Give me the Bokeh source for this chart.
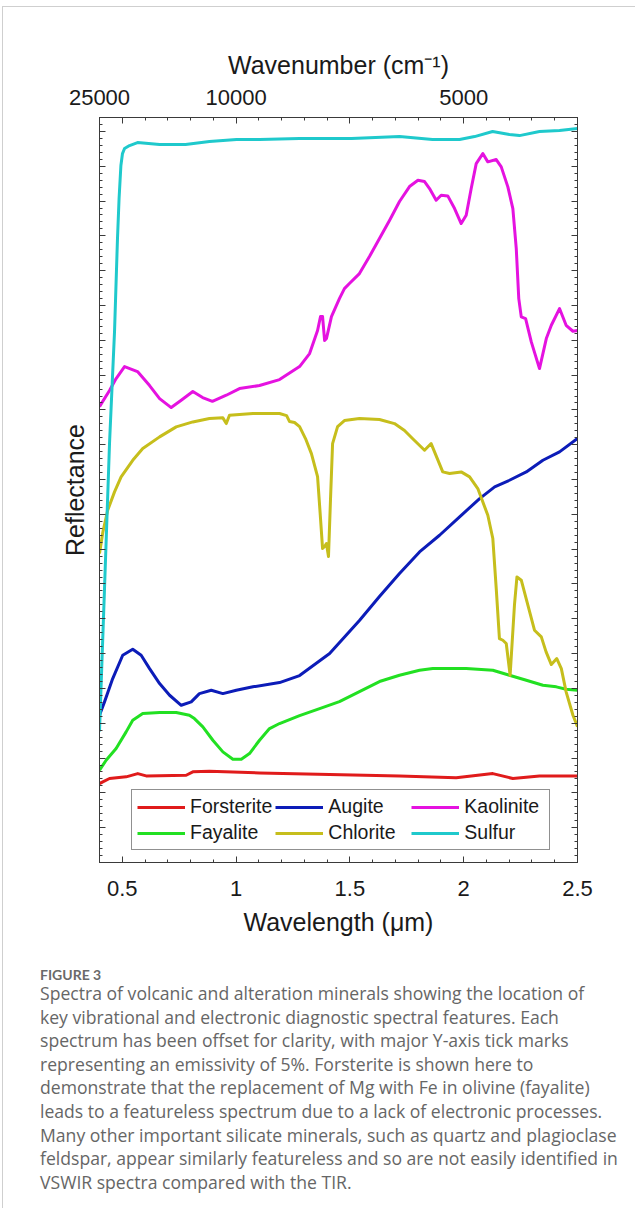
from bokeh.plotting import figure
from bokeh.models import Range1d, LinearAxis, FixedTicker, Legend, LegendItem, Div, Spacer
from bokeh.layouts import column, row
from bokeh.embed import file_html
from bokeh.resources import INLINE

# ---------------- data (wavelength in um, offset reflectance in %) ----------------
forsterite_wl = [0.400, 0.444, 0.517, 0.568, 0.605, 0.781, 0.810, 0.883, 1.103, 1.411,
                 1.718, 1.967, 2.128, 2.216, 2.333, 2.500]
forsterite_r = [11.34, 12.06, 12.30, 12.77, 12.44, 12.53, 13.02, 13.10, 12.87, 12.63,
                12.44, 12.16, 12.77, 12.06, 12.44, 12.44]

fayalite_wl = [0.400, 0.429, 0.473, 0.517, 0.546, 0.590, 0.664, 0.737, 0.795, 0.817,
               0.854, 0.898, 0.942, 0.986, 1.023, 1.059, 1.103, 1.147, 1.191, 1.279,
               1.367, 1.454, 1.542, 1.630, 1.718, 1.806, 1.864, 2.011, 2.128, 2.201,
               2.275, 2.348, 2.407, 2.450, 2.500]
fayalite_r = [13.25, 14.68, 16.36, 18.76, 20.43, 21.39, 21.54, 21.54, 21.15, 20.67,
              19.48, 17.56, 15.89, 14.83, 14.83, 15.65, 17.56, 19.24, 19.96, 21.10,
              22.11, 23.11, 24.55, 25.99, 26.89, 27.61, 27.85, 27.85, 27.61, 26.89,
              26.17, 25.46, 25.23, 24.88, 24.74]

augite_wl = [0.400, 0.422, 0.458, 0.502, 0.546, 0.583, 0.620, 0.664, 0.708, 0.759,
             0.803, 0.839, 0.891, 0.942, 1.001, 1.074, 1.191, 1.279, 1.411, 1.542,
             1.630, 1.718, 1.806, 1.894, 1.982, 2.070, 2.136, 2.201, 2.275, 2.348,
             2.421, 2.500]
augite_r = [21.15, 23.07, 26.42, 29.77, 30.63, 29.77, 27.85, 25.70, 24.02, 22.58,
            23.07, 24.26, 24.74, 24.26, 24.74, 25.23, 25.84, 26.85, 30.01, 34.75,
            38.20, 41.50, 44.61, 47.00, 49.64, 52.27, 53.95, 54.90, 56.10, 57.77,
            58.98, 60.89]

chlorite_wl = [0.400, 0.415, 0.436, 0.466, 0.495, 0.546, 0.590, 0.664, 0.737, 0.810,
               0.883, 0.942, 0.957, 0.971, 1.074, 1.191, 1.222, 1.235, 1.257, 1.279,
               1.305, 1.331, 1.358, 1.371, 1.380, 1.389, 1.397, 1.406, 1.415, 1.424,
               1.446, 1.476, 1.542, 1.630, 1.696, 1.740, 1.775, 1.828, 1.857, 1.908,
               1.938, 1.989, 2.026, 2.062, 2.106, 2.128, 2.143, 2.157, 2.172, 2.187,
               2.204, 2.223, 2.234, 2.253, 2.282, 2.311, 2.341, 2.362, 2.385, 2.409,
               2.429, 2.450, 2.480, 2.500]
chlorite_r = [44.37, 47.49, 50.59, 53.23, 55.39, 57.77, 59.45, 61.13, 62.57, 63.28,
              63.76, 63.86, 63.04, 64.23, 64.48, 64.48, 64.19, 63.33, 63.19, 62.61,
              60.89, 58.73, 55.43, 49.40, 45.09, 45.38, 45.81, 43.94, 52.27, 60.17,
              62.61, 63.47, 63.76, 63.62, 63.04, 62.04, 60.89, 59.21, 60.17, 56.10,
              55.86, 56.10, 55.39, 53.71, 49.87, 46.53, 39.34, 32.16, 31.92, 31.45,
              26.89, 36.95, 41.02, 40.54, 36.95, 33.36, 32.41, 30.25, 28.43, 29.29,
              27.85, 24.51, 21.15, 19.52]

kaolinite_wl = [0.400, 0.444, 0.473, 0.510, 0.567, 0.620, 0.664, 0.715, 0.759, 0.810,
                0.853, 0.896, 0.957, 1.015, 1.103, 1.191, 1.279, 1.323, 1.358, 1.371,
                1.380, 1.389, 1.397, 1.419, 1.454, 1.476, 1.498, 1.542, 1.586, 1.630,
                1.674, 1.718, 1.762, 1.799, 1.828, 1.850, 1.879, 1.901, 1.930, 1.960,
                1.989, 2.011, 2.033, 2.055, 2.084, 2.106, 2.143, 2.165, 2.194, 2.216,
                2.231, 2.242, 2.253, 2.272, 2.297, 2.333, 2.363, 2.385, 2.421, 2.450,
                2.480, 2.500]
kaolinite_r = [65.48, 67.78, 69.50, 71.23, 70.51, 68.50, 66.63, 65.34, 66.39, 67.64,
               66.78, 66.24, 67.11, 68.07, 68.50, 69.36, 71.23, 73.09, 76.40, 78.41,
               78.41, 74.96, 75.25, 78.41, 80.99, 82.43, 83.15, 84.58, 87.03, 89.61,
               92.20, 94.93, 97.08, 97.98, 97.80, 96.79, 95.11, 95.83, 95.74, 93.92,
               91.77, 92.96, 96.79, 100.38, 101.82, 100.63, 100.96, 99.91, 97.04, 93.92,
               88.17, 80.99, 78.37, 78.12, 74.77, 70.94, 75.25, 77.16, 79.56, 77.16,
               76.30, 76.40]

sulfur_wl = [0.400, 0.422, 0.444, 0.466, 0.479, 0.486, 0.494, 0.501, 0.510, 0.532,
             0.567, 0.664, 0.778, 0.883, 1.002, 1.103, 1.279, 1.507, 1.718, 1.863,
             1.982, 2.048, 2.127, 2.201, 2.245, 2.333, 2.421, 2.500]
sulfur_r = [18.81, 39.34, 60.17, 76.25, 89.61, 95.36, 100.10, 101.82, 102.54, 102.97,
            103.40, 103.11, 103.11, 103.54, 103.83, 103.83, 103.97, 103.97, 104.26, 103.83,
            103.83, 104.26, 104.98, 104.55, 104.40, 104.98, 105.13, 105.41]

series_names = ["Forsterite", "Augite", "Kaolinite", "Fayalite", "Chlorite", "Sulfur"]
series_colors = ["#e01b1b", "#0c1cb8", "#e512e0", "#22e022", "#c6be1c", "#1fc9cc"]

x_major_ticks = [0.5, 1.0, 1.5, 2.0, 2.5]
x_major_labels = ["0.5", "1", "1.5", "2", "2.5"]
top_ticks = [0.4, 0.5, 1.0, 1.5, 2.0, 2.5]
top_labels = ["25000", "", "10000", "", "5000", ""]
y_major_ticks = list(range(0, 106, 5))

x_minor = [round(0.4 + 0.1 * i, 2) for i in range(22)]
y_minor = list(range(0, 108))

FONT = "Liberation Sans"
AX = "#3a3a3a"

p = figure(width=615, height=941, x_range=Range1d(0.4, 2.5), y_range=Range1d(0, 107),
           x_axis_type=None, y_axis_type=None, output_backend="svg", toolbar_location=None,
           min_border_left=96, min_border_right=41, min_border_top=110, min_border_bottom=86)
p.outline_line_color = AX
p.outline_line_width = 1
p.background_fill_color = "white"
p.border_fill_color = "white"


def style_axis(ax, standoff=10):
    ax.axis_line_color = AX
    ax.major_tick_line_color = AX
    ax.minor_tick_line_color = AX
    ax.major_tick_in = 6
    ax.major_tick_out = 0
    ax.minor_tick_in = 3
    ax.minor_tick_out = 0
    ax.major_label_text_font = FONT
    ax.major_label_text_font_size = "22px"
    ax.major_label_text_color = "#1a1a1a"
    ax.major_label_standoff = standoff
    ax.axis_label_text_font = FONT
    ax.axis_label_text_font_size = "25px"
    ax.axis_label_text_font_style = "normal"
    ax.axis_label_text_color = "#1a1a1a"


bottom = LinearAxis(ticker=FixedTicker(ticks=x_major_ticks, minor_ticks=x_minor),
                    major_label_overrides=dict(zip(x_major_ticks, x_major_labels)),
                    axis_label="Wavelength (\u03bcm)")
style_axis(bottom, 18)
bottom.axis_label_standoff = 9
p.add_layout(bottom, "below")

top = LinearAxis(ticker=FixedTicker(ticks=top_ticks, minor_ticks=x_minor),
                 major_label_overrides=dict(zip(top_ticks, top_labels)),
                 axis_label="Wavenumber (cm\u207b\u00b9)")
style_axis(top, 13)
top.axis_label_standoff = 8
p.add_layout(top, "above")

y_over = {t: "" for t in y_major_ticks}
left = LinearAxis(ticker=FixedTicker(ticks=y_major_ticks, minor_ticks=y_minor),
                  major_label_overrides=y_over, axis_label="Reflectance")
style_axis(left, 0)
left.axis_label_standoff = 11
p.add_layout(left, "left")

right = LinearAxis(ticker=FixedTicker(ticks=y_major_ticks, minor_ticks=y_minor),
                   major_label_overrides=y_over)
style_axis(right, 0)
p.add_layout(right, "right")

data = {
    "Forsterite": (forsterite_wl, forsterite_r),
    "Augite": (augite_wl, augite_r),
    "Kaolinite": (kaolinite_wl, kaolinite_r),
    "Fayalite": (fayalite_wl, fayalite_r),
    "Chlorite": (chlorite_wl, chlorite_r),
    "Sulfur": (sulfur_wl, sulfur_r),
}
renderers = {}
for name, color in zip(series_names, series_colors):
    wl, r = data[name]
    renderers[name] = p.line(wl, r, line_color=color, line_width=3, line_join="round")

legend = Legend(items=[LegendItem(label=n, renderers=[renderers[n]]) for n in series_names],
                location=(32, 12), orientation="horizontal", ncols=3,
                glyph_width=48, glyph_height=20, label_height=20, label_width=80,
                label_text_font=FONT, label_text_font_size="19.5px", label_text_color="#1a1a1a",
                label_standoff=5, spacing=3, padding=5, margin=0,
                border_line_color="#222222", border_line_width=1,
                background_fill_color="white", background_fill_alpha=1)
p.add_layout(legend)

caption_lines = [
    "Spectra of volcanic and alteration minerals showing the location of",
    "key vibrational and electronic diagnostic spectral features. Each",
    "spectrum has been offset for clarity, with major Y-axis tick marks",
    "representing an emissivity of 5%. Forsterite is shown here to",
    "demonstrate that the replacement of Mg with Fe in olivine (fayalite)",
    "leads to a featureless spectrum due to a lack of electronic processes.",
    "Many other important silicate minerals, such as quartz and plagioclase",
    "feldspar, appear similarly featureless and so are not easily identified in",
    "VSWIR spectra compared with the TIR.",
]
html = ('<div style="font-family:Lato;font-size:14px;font-weight:bold;color:#6a6a6a;'
        'line-height:14px;margin:0;">FIGURE 3</div>'
        '<div style="font-family:\'Open Sans\';font-size:17.6px;line-height:23.6px;color:#666666;'
        'white-space:nowrap;">' + "<br>".join(caption_lines) + '</div>')
caption = Div(text=html, width=622, height=250,
              styles={"padding-left": "32px", "padding-top": "15px", "box-sizing": "border-box",
                      "overflow": "hidden"})

inner = column(p, caption,
               styles={"border-top": "1px solid #cfcfcf", "border-left": "1px solid #cfcfcf"})
layout = column(Spacer(height=6), row(Spacer(width=2), inner))

open("out.html", "w").write(file_html(layout, INLINE))
